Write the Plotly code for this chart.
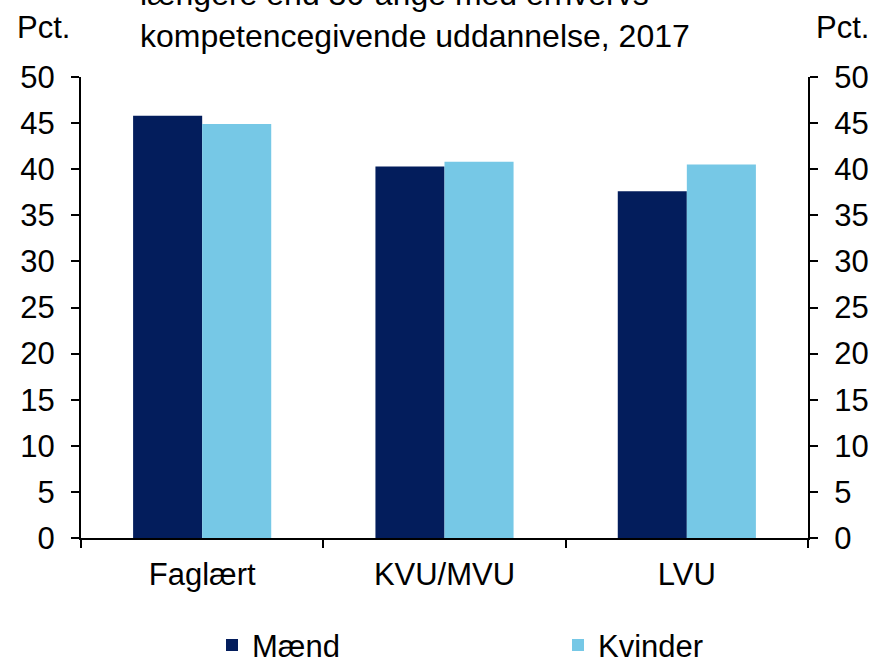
import plotly.graph_objects as go

categories = ["Faglært", "KVU/MVU", "LVU"]
maend = [45.8, 40.3, 37.6]
kvinder = [44.9, 40.8, 40.5]
y_ticks = [0, 5, 10, 15, 20, 25, 30, 35, 40, 45, 50]

FONT = "Liberation Sans, Arial, sans-serif"
NAVY = "#031D5C"
LIGHT = "#76C8E6"
FS = 31

fig = go.Figure()
fig.add_trace(go.Bar(name="Mænd", x=categories, y=maend, marker_color=NAVY,
                     marker_line_width=0, legend="legend"))
fig.add_trace(go.Bar(name="Kvinder", x=categories, y=kvinder, marker_color=LIGHT,
                     marker_line_width=0, legend="legend2"))
# invisible trace to carry the right-hand axis
fig.add_trace(go.Scatter(x=categories, y=maend, yaxis="y2", mode="markers",
                         marker_opacity=0, showlegend=False, hoverinfo="skip"))

axis_common = dict(range=[0, 50], tickvals=y_ticks, ticks="outside", ticklen=8,
                   tickwidth=2, tickcolor="black", showline=True, linecolor="black",
                   linewidth=2, showgrid=False, zeroline=False, ticklabelstandoff=10,
                   tickfont=dict(family=FONT, size=FS, color="black"))

legend_common = dict(orientation="h", yanchor="middle", y=-0.233, xanchor="left",
                     font=dict(family=FONT, size=FS, color="black"),
                     itemclick=False, bgcolor="rgba(0,0,0,0)")

fig.update_layout(
    width=877, height=660,
    margin=dict(l=81, r=69, t=77, b=122, autoexpand=False),
    paper_bgcolor="white", plot_bgcolor="white",
    barmode="group", bargap=0.43, bargroupgap=0,
    xaxis=dict(type="category", tickson="boundaries", ticks="outside", ticklen=8,
               tickwidth=2, tickcolor="black", showline=True, linecolor="black",
               linewidth=2, showgrid=False, ticklabelstandoff=8,
               tickfont=dict(family=FONT, size=FS, color="black")),
    yaxis=dict(side="left", **axis_common),
    yaxis2=dict(side="right", overlaying="y", **axis_common),
    showlegend=True,
    legend=dict(x=(212 - 81) / 727, **legend_common),
    legend2=dict(x=(558 - 81) / 727, **legend_common),
)

fig.add_annotation(text="Pct.", xref="paper", yref="paper", x=(15 - 81) / 727,
                   y=(538 - 28) / 461, xanchor="left", yanchor="middle", showarrow=False,
                   font=dict(family=FONT, size=FS, color="black"))
fig.add_annotation(text="Pct.", xref="paper", yref="paper", x=(871 - 81) / 727,
                   y=(538 - 28) / 461, xanchor="right", yanchor="middle", showarrow=False,
                   font=dict(family=FONT, size=FS, color="black"))
fig.add_annotation(text="længere end 30-årige med erhvervs-<br>kompetencegivende uddannelse, 2017",
                   xref="paper", yref="paper", x=(415 - 81) / 727, y=(538 - 15) / 461,
                   xanchor="center", yanchor="middle", align="left", showarrow=False,
                   font=dict(family=FONT, size=32, color="black"))

fig.write_html("out.html", config={"displayModeBar": False},
               post_script="document.body.style.margin='0';document.body.style.overflow='hidden';")
